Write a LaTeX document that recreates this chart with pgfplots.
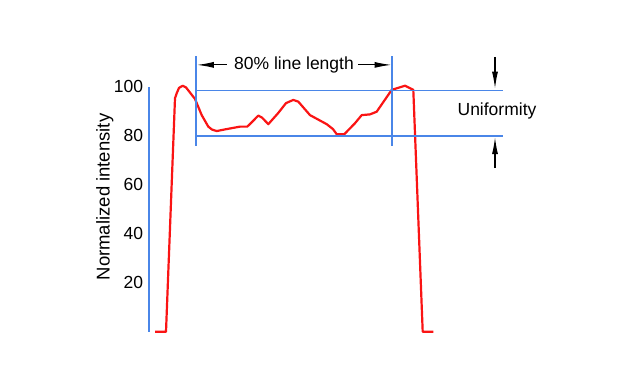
\documentclass[border=0pt]{standalone}
\usepackage{pgfplots}
\pgfplotsset{compat=1.18}
\usepackage{fontspec}
\setmainfont{Liberation Sans}
\usetikzlibrary{arrows.meta}
\definecolor{myblue}{RGB}{74,134,232}
\definecolor{myred}{RGB}{250,20,20}
\begin{document}
\begin{tikzpicture}[font=\fontsize{17.5}{21}\selectfont]
\useasboundingbox (-149pt,-53.3pt) rectangle (474pt,331.7pt);
\begin{axis}[
  at={(0,0)}, anchor=south west,
  scale only axis, width=354pt, height=245pt,
  xmin=0, xmax=354, ymin=0, ymax=100,
  axis x line=none, axis y line=left,
  axis line style={-, draw=myblue, line width=1.7pt},
  ytick={20,40,60,80,100},
  major tick length=0pt,
  yticklabel style={inner sep=0pt, xshift=-5.7pt},
  /pgf/number format/assume math mode=true,
  clip=false,
  ylabel={Normalized intensity},
  every axis y label/.style={at={(axis description cs:-0.125,0.55)}, rotate=90, anchor=center, font=\fontsize{18.5}{22}\selectfont},
]
\addplot[myred, line width=2.2pt, line join=round] coordinates {
(6,0) (17,0) (26,95.3) (27.7,97.3) (30,99.5) (33.7,100.4) (37,99.7)
(46,95.0) (52.7,88.4) (59.3,83.7) (63,82.5) (67.7,81.9) (77.7,82.7)
(91,83.7) (98.3,83.7) (103,85.6) (109.3,88.2) (113,87.4) (119.3,84.7)
(129.3,89.3) (137,93.3) (144.3,94.6) (149.3,93.9) (161,88.4)
(177.7,84.7) (184,82.7) (187.7,80.6) (195.3,80.6) (206,85.1)
(212.7,88.4) (221,88.7) (227.7,89.8) (242.7,98.7) (256,100.4)
(264.3,98.7) (273.7,0) (284.3,0)
};
% 80% line length markers
\draw[myblue, line width=1.7pt] (axis cs:47,75.8) -- (axis cs:47,112.5);
\draw[myblue, line width=1.7pt] (axis cs:243.3,75.8) -- (axis cs:243.3,112.5);
\draw[myblue, line width=1.7pt] (axis cs:47,98.5) -- (axis cs:353.7,98.5);
\draw[myblue, line width=1.7pt] (axis cs:47,80) -- (axis cs:353.7,80);
\draw[-{Latex[length=17pt,width=6pt]}, line width=1.2pt] (axis cs:77.7,108.9) -- (axis cs:47.8,108.9);
\draw[-{Latex[length=17pt,width=6pt]}, line width=1.2pt] (axis cs:209,108.9) -- (axis cs:242.5,108.9);
\node at (axis cs:145,108.9) {80\% line length};
% Uniformity
\draw[-{Latex[length=17pt,width=6pt]}, line width=1.2pt] (axis cs:346,112.2) -- (axis cs:346,99.2);
\draw[-{Latex[length=17pt,width=6pt]}, line width=1.2pt] (axis cs:346,66.8) -- (axis cs:346,79.4);
\node at (axis cs:348,90.2) {Uniformity};
\end{axis}
\end{tikzpicture}
\end{document}
